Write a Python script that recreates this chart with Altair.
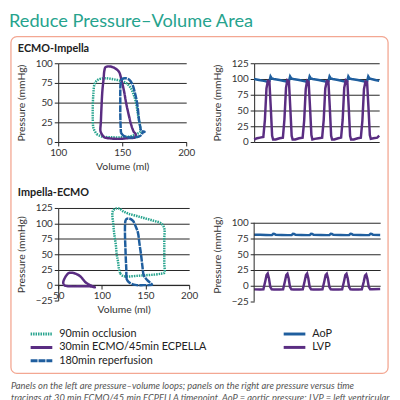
import altair as alt
import pandas as pd

FONT = "Lato"
TEAL = "#26a38d"
PURPLE = "#5a2d82"
BLUE = "#1f5e9e"
INK = "#262626"
TEXT = "#333333"
FRAME = "#f3a792"

SERIES = ["90min occlusion", "30min ECMO/45min ECPELLA", "180min reperfusion"]
TRACES = ["AoP", "LVP"]

TITLE = "Reduce Pressure\u2013Volume Area"
PANEL_TOP = "ECMO-Impella"
PANEL_BOTTOM = "Impella-ECMO"
Y_TITLE = "Pressure (mmHg)"
X_TITLE = "Volume (ml)"
CAPTION_1 = "Panels on the left are pressure\u2013volume loops; panels on the right are pressure versus time"
CAPTION_2 = "tracings at 30 min ECMO/45 min ECPELLA timepoint. AoP = aortic pressure; LVP = left ventricular"

EI_VOL_TICKS = [100, 150, 200]
EI_P_TICKS = [0, 25, 50, 75, 100]
IE_VOL_TICKS = [50, 100, 150, 200]
IE_P_TICKS = [-25, 0, 25, 50, 75, 100, 125]
EI_TRACE_TICKS = [0, 25, 50, 75, 100, 125]
IE_TRACE_TICKS = [-25, 0, 25, 50, 75, 100]

# ECMO-Impella pressure-volume loops
ei_occ_vol = [130, 134, 142, 150, 156, 161, 164, 164, 163, 162, 160.5, 158.5, 156.5, 153, 148, 142, 136, 131, 128.5, 127.5, 127, 127, 127.5, 130]
ei_occ_p = [10, 7, 6, 6, 7, 10, 13, 20, 28, 38, 52, 62, 69, 75, 78, 80, 81, 79, 74, 62, 45, 30, 18, 10]
ei_ecmo_vol = [134, 136, 141, 148, 155, 160, 160.5, 159, 157, 155, 153, 151.5, 149.5, 147.5, 144, 140, 137, 136, 135.5, 134.5, 133.8, 133.3, 133, 134]
ei_ecmo_p = [10, 6, 4.5, 4, 5, 6, 10, 13, 22, 35, 50, 64, 78, 89, 94, 96, 95, 90, 81, 65, 44, 25, 14, 10]
ei_rep_vol = [149, 151, 155, 160, 163, 165, 166, 167.5, 165, 164, 163, 162, 161, 159.5, 158, 155.5, 152.5, 150, 148.8, 148.5, 148.5, 148.5, 148.7, 149]
ei_rep_p = [12, 8, 6, 6, 7, 9, 12, 13, 14, 20, 30, 45, 55, 65, 73, 79, 81, 80, 75, 65, 50, 35, 22, 12]

# Impella-ECMO pressure-volume loops
ie_occ_vol = [121, 124, 130, 140, 150, 160, 168, 171.5, 171.5, 171.5, 171.5, 171.5, 168, 160, 150, 140, 130, 124, 120, 116, 113, 112, 113, 114, 116, 117, 118.5, 119.5, 121]
ie_occ_p = [19, 15, 14, 15, 16, 17, 18.5, 20, 35, 55, 75, 92, 100, 104, 108, 112, 116, 120, 124, 124, 121, 115, 100, 85, 65, 50, 38, 27, 19]
ie_ecmo_vol = [56, 58, 65, 72, 80, 86, 92, 88, 84, 81, 78, 75.5, 71, 66, 62, 59, 57, 55.8, 56]
ie_ecmo_p = [1, -1, -2, -2, -2, -2, -3.5, -1, 2, 5, 10, 14, 18, 20, 19.5, 15, 10, 5, 1]
ie_rep_vol = [128, 130, 134, 140, 148, 154, 157.5, 156, 152, 148, 146.5, 145, 143, 141.3, 138.5, 135.7, 131, 128, 127, 126.5, 126.5, 127, 127.5, 128, 128]
ie_rep_p = [11, 6, 2, 0, 0, 0, 0.5, 3, 8, 16, 30, 48, 68, 85, 96, 104, 108, 107, 104, 96, 80, 59, 40, 25, 11]

# ECMO-Impella pressure tracings (time in arbitrary units)
ei_lvp_t = [0.00, 0.15, 0.30, 0.47, 0.55, 0.63, 0.70, 0.78, 0.85, 0.92, 0.97, 1.10, 1.30,
            1.47, 1.55, 1.63, 1.70, 1.78, 1.85, 1.92, 1.97, 2.10, 2.30,
            2.48, 2.56, 2.64, 2.71, 2.79, 2.86, 2.93, 2.98, 3.10, 3.30,
            3.48, 3.56, 3.64, 3.72, 3.80, 3.87, 3.94, 3.99, 4.10, 4.30,
            4.45, 4.53, 4.61, 4.69, 4.77, 4.84, 4.91, 4.96, 5.10, 5.30,
            5.46, 5.54, 5.62, 5.70, 5.78, 5.85, 5.92, 5.97, 6.10, 6.30, 6.40]
ei_lvp_p = [4, 6, 7, 8, 35, 85, 97, 96, 55, 10, 4, 4, 6,
            7, 36, 86, 98, 96, 54, 10, 4, 4, 6,
            7, 34, 84, 97, 95, 55, 11, 4, 5, 6,
            7, 35, 85, 97, 96, 56, 10, 4, 4, 6,
            7, 35, 86, 98, 96, 55, 10, 4, 4, 6,
            7, 34, 84, 96, 95, 55, 11, 5, 6, 7, 10]
ei_aop_t = [0.00, 0.25, 0.50, 0.72, 0.78, 0.84, 0.90, 1.00, 1.30, 1.60,
            1.72, 1.78, 1.84, 1.90, 2.00, 2.30, 2.60,
            2.72, 2.78, 2.84, 2.90, 3.00, 3.30, 3.60,
            3.74, 3.80, 3.86, 3.92, 4.02, 4.30, 4.58,
            4.70, 4.76, 4.82, 4.88, 4.98, 5.30, 5.60,
            5.72, 5.78, 5.84, 5.90, 6.00, 6.20, 6.40]
ei_aop_p = [100, 98.5, 97, 95.5, 96.5, 104, 101, 100, 98.5, 96.5,
            95.5, 96.5, 104, 101, 100, 98.5, 96.5,
            95.5, 96.5, 104, 101, 100, 98.5, 96.5,
            95.5, 96.5, 104, 101, 100, 98.5, 96.5,
            95.5, 96.5, 104, 101, 100, 98.5, 96.5,
            95.5, 96.5, 104, 101, 100, 98.5, 97]

# Impella-ECMO pressure tracings
ie_lvp_t = [0.00, 0.30, 0.47, 0.57, 0.63, 0.69, 0.75, 0.82, 0.89, 1.00, 1.30,
            1.47, 1.57, 1.63, 1.69, 1.75, 1.82, 1.89, 2.00, 2.30,
            2.47, 2.57, 2.63, 2.69, 2.75, 2.82, 2.89, 3.00, 3.30,
            3.47, 3.57, 3.63, 3.69, 3.75, 3.82, 3.89, 4.00, 4.30,
            4.47, 4.57, 4.63, 4.69, 4.75, 4.82, 4.89, 5.00, 5.30,
            5.47, 5.57, 5.63, 5.69, 5.75, 5.82, 5.89, 6.00, 6.40]
ie_lvp_p = [-5.7, -5.8, -5.5, 8, 17, 19.5, 12, -2, -5.5, -5.8, -5.8,
            -5.5, 8, 17, 19, 12, -2, -5.5, -5.8, -5.8,
            -5.5, 8, 17, 19.5, 12, -2, -5.5, -5.8, -5.8,
            -5.5, 8, 17, 19, 12, -2, -5.5, -5.8, -5.8,
            -5.5, 8, 17, 19, 12, -2, -5.5, -5.8, -5.8,
            -5.5, 7, 16, 18, 11, -2, -5.5, -5.6, -5.2]
ie_aop_t = [0.00, 0.30, 0.60, 0.90, 0.97, 1.03, 1.10, 1.40, 1.70,
            1.90, 1.97, 2.03, 2.10, 2.40, 2.70,
            2.82, 2.89, 2.95, 3.02, 3.40, 3.70,
            3.82, 3.89, 3.95, 4.02, 4.40, 4.70,
            4.82, 4.89, 4.95, 5.02, 5.40, 5.70,
            5.84, 5.91, 5.97, 6.04, 6.40]
ie_aop_p = [81, 80.8, 80.6, 80.4, 82.4, 82.2, 80.8, 80.6, 80.4,
            80.4, 82.4, 82.2, 80.8, 80.6, 80.4,
            80.4, 82.4, 82.2, 80.8, 80.6, 80.4,
            80.4, 82.4, 82.2, 80.8, 80.6, 80.4,
            80.4, 82.4, 82.2, 80.8, 80.6, 80.4,
            80.4, 82.4, 82.2, 80.8, 80.5]


def loops_df(groups):
    rows = []
    for name, vols, ps in groups:
        for i, (v, p) in enumerate(zip(vols, ps)):
            rows.append({"series": name, "vol": v, "p": p, "i": i})
    return pd.DataFrame(rows)


def traces_df(groups):
    rows = []
    for name, ts, ps in groups:
        for i, (t, p) in enumerate(zip(ts, ps)):
            rows.append({"trace": name, "t": t, "p": p, "i": i})
    return pd.DataFrame(rows)


ei_loops = loops_df([(SERIES[0], ei_occ_vol, ei_occ_p), (SERIES[1], ei_ecmo_vol, ei_ecmo_p), (SERIES[2], ei_rep_vol, ei_rep_p)])
ie_loops = loops_df([(SERIES[0], ie_occ_vol, ie_occ_p), (SERIES[1], ie_ecmo_vol, ie_ecmo_p), (SERIES[2], ie_rep_vol, ie_rep_p)])
ei_traces = traces_df([(TRACES[0], ei_aop_t, ei_aop_p), (TRACES[1], ei_lvp_t, ei_lvp_p)])
ie_traces = traces_df([(TRACES[0], ie_aop_t, ie_aop_p), (TRACES[1], ie_lvp_t, ie_lvp_p)])

one = pd.DataFrame({"k": [0]})

GRID_HIDE_NEG = {"condition": {"test": "datum.value === -25", "value": 0}, "value": 1}


def y_axis(values, domain=True):
    return alt.Axis(values=values, title=Y_TITLE, grid=True, gridColor=INK, gridWidth=1,
                    gridOpacity=GRID_HIDE_NEG, domain=domain, domainColor=INK, tickColor=INK,
                    tickSize=4, labelFontSize=10, labelColor=TEXT, labelFont=FONT,
                    labelOverlap=False, labelFlush=False,
                    titleFont=FONT, titleFontSize=10.5, titleFontWeight="normal",
                    titleColor=TEXT, titlePadding=9, labelPadding=2)


def x_axis(values, offset):
    return alt.Axis(values=values, title=X_TITLE, grid=False, domainColor=INK, tickColor=INK,
                    tickSize=4, labelFontSize=10, labelColor=TEXT, labelFont=FONT,
                    labelFlush=False, labelOverlap=False, titleFont=FONT, titleFontSize=10.5,
                    titleFontWeight="normal", titleColor=TEXT, titlePadding=4,
                    labelPadding=2, offset=offset)


def legend_at(lx, ly):
    return alt.Legend(orient="none", legendX=lx, legendY=ly, title=None, direction="vertical",
                      symbolType="M-2,0H2", symbolSize=121, symbolStrokeWidth=3,
                      labelFontSize=11, labelFont=FONT, labelColor="#222222",
                      rowPadding=0.6, labelOffset=11, padding=0, labelLimit=300)


def loop_chart(df, xdom, xticks, ydom, yticks, w, h, offset, legend):
    return alt.Chart(df).mark_line(strokeWidth=2.5, interpolate="catmull-rom").encode(
        x=alt.X("vol:Q", scale=alt.Scale(domain=xdom, nice=False, zero=False), axis=x_axis(xticks, offset)),
        y=alt.Y("p:Q", scale=alt.Scale(domain=ydom, nice=False, zero=False), axis=y_axis(yticks)),
        color=alt.Color("series:N", scale=alt.Scale(domain=SERIES, range=[TEAL, PURPLE, BLUE]), legend=legend),
        strokeDash=alt.StrokeDash("series:N", scale=alt.Scale(domain=SERIES, range=[[1.5, 1], [1, 0], [7, 1]]), legend=legend),
        detail="series:N",
        order="i:Q",
    ).properties(width=w, height=h)


def trace_chart(df, ydom, yticks, w, h, legend, domain=True):
    return alt.Chart(df).mark_line(strokeWidth=2.5).encode(
        x=alt.X("t:Q", scale=alt.Scale(domain=[0, 6.4], nice=False, zero=False), axis=None),
        y=alt.Y("p:Q", scale=alt.Scale(domain=ydom, nice=False, zero=False), axis=y_axis(yticks, domain)),
        color=alt.Color("trace:N", scale=alt.Scale(domain=TRACES, range=[BLUE, PURPLE]), legend=legend),
        detail="trace:N",
        order="i:Q",
    ).properties(width=w, height=h)


# decorations drawn relative to the top-left panel
frame = alt.Chart(one).mark_rect(cornerRadius=6, fill="transparent", stroke=FRAME, strokeWidth=1.3).encode(
    x=alt.value(-48), x2=alt.value(335), y=alt.value(-27), y2=alt.value(315))
title = alt.Chart(one).mark_text(text=TITLE, align="left", baseline="top", font=FONT, fontSize=18.5, color=TEAL).encode(
    x=alt.value(-50), y=alt.value(-52))
lab_top = alt.Chart(one).mark_text(text=PANEL_TOP, align="left", baseline="alphabetic", font=FONT, fontSize=11, fontWeight="bold", color="#222222").encode(
    x=alt.value(-41), y=alt.value(-11))
lab_bottom = alt.Chart(one).mark_text(text=PANEL_BOTTOM, align="left", baseline="alphabetic", font=FONT, fontSize=11, fontWeight="bold", color="#222222").encode(
    x=alt.value(-41), y=alt.value(135))
cap1 = alt.Chart(one).mark_text(text=CAPTION_1, align="left", baseline="alphabetic", font=FONT, fontSize=9.5, fontStyle="italic", color="#555555").encode(
    x=alt.value(-48), y=alt.value(331))
cap2 = alt.Chart(one).mark_text(text=CAPTION_2, align="left", baseline="alphabetic", font=FONT, fontSize=9.5, fontStyle="italic", color="#555555").encode(
    x=alt.value(-48), y=alt.value(343))

tl = alt.layer(
    frame,
    loop_chart(ei_loops, [100, 200], EI_VOL_TICKS, [0, 100], EI_P_TICKS, 130, 80, 0, None),
    title, lab_top, lab_bottom, cap1, cap2,
).properties(width=130, height=80)

tr = trace_chart(ei_traces, [0, 125], EI_TRACE_TICKS, 127, 80, None)

bl = loop_chart(ie_loops, [50, 200], IE_VOL_TICKS, [-25, 125], IE_P_TICKS, 133, 94, -15.7, legend_at(-24, 121))

br_axis_line = alt.Chart(one).mark_rule(color=INK, strokeWidth=1).encode(
    x=alt.value(0),
    y=alt.YDatum(IE_TRACE_TICKS[0], axis=None),
    y2=alt.Y2Datum(IE_TRACE_TICKS[-1]),
)
br = alt.layer(
    trace_chart(ie_traces, [-25, 123.44], IE_TRACE_TICKS, 128, 95, legend_at(34, 121), domain=False),
    br_axis_line,
).resolve_axis(y="independent").properties(width=128, height=95)

chart = alt.concat(
    tl, tr, bl, br, columns=2, spacing={"row": 67, "column": 66}, bounds="flush"
).resolve_scale(
    color="independent", strokeDash="independent"
).properties(
    padding=0, background="white"
).configure_view(stroke="transparent")

chart.save("out.html", embed_options={"renderer": "svg", "actions": False})
